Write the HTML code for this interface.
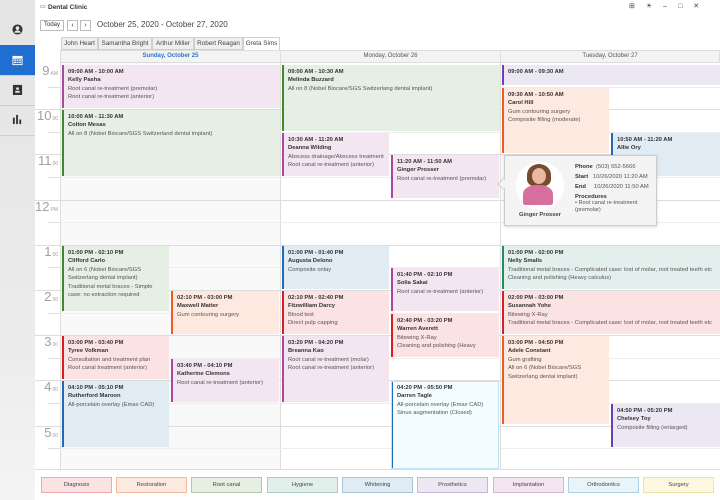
<!DOCTYPE html>
<html><head><meta charset="utf-8"><style>
*{margin:0;padding:0;box-sizing:border-box}
body{width:720px;height:500px;overflow:hidden;background:#fff;font-family:"Liberation Sans",sans-serif;position:relative;color:#333}
.a{position:absolute}
.side{left:0;top:0;width:35px;height:500px;background:linear-gradient(#e4e4e4,#ececec 70%,#f4f4f4)}
.sep{position:absolute;left:0;width:35px;height:1px;background:#cfcfcf}
.ico{position:absolute;left:12px;width:11px;height:11px}
.tab{position:absolute;top:37px;height:13px;border:1px solid #cfcfcf;background:#efefef;font-size:6.3px;text-align:center;line-height:11px;color:#444;white-space:nowrap}
.dh{position:absolute;top:50px;height:13px;background:#f3f3f3;border:1px solid #ddd;font-size:6px;text-align:center;line-height:11px;color:#555}
.hl{position:absolute;left:60px;width:660px;height:1px}
.hn{position:absolute;left:34px;width:24px;text-align:right;font-size:13px;color:#a0a0a0}
.hn span{font-size:5px;margin-left:1px}
.ap{position:absolute;border-left:2px solid;font-size:5.8px;padding:3px 4px;line-height:8.4px;overflow:hidden;color:#555}
.ap b{display:block;color:#333}
.pk{background:#f3e6f0;border-color:#a8489e}
.gr{background:#e6efe3;border-color:#3c8a2a}
.or{background:#fde9e0;border-color:#f15a22}
.rd{background:#fbe3e3;border-color:#d81e1e}
.bl{background:#e1ebf3;border-color:#1d6bb5}
.lv{background:#ece8f3;border-color:#6a3fb0}
.tl{background:#e3efec;border-color:#2a8a5f}
.cy{background:#f3fcfe;border-color:#1d6bb5;outline:1px solid #bfe3ee;outline-offset:-1px}
.lg{position:absolute;top:477px;height:16px;width:71px;border:1px solid;font-size:5.8px;text-align:center;line-height:14px;color:#444}
</style></head><body>
<div class="a side">
<div class="sep" style="top:45px"></div><div class="sep" style="top:75px"></div><div class="sep" style="top:105px"></div><div class="sep" style="top:135px"></div>
<div class="a" style="left:0;top:45px;width:35px;height:30px;background:#1e6fd0"></div>
<svg class="ico" style="top:24px" viewBox="0 0 12 12"><circle cx="6" cy="6" r="5.5" fill="#333"/><circle cx="6" cy="4.5" r="2" fill="#e6e6e6"/><path d="M2.5 9.5a3.5 2.5 0 0 1 7 0z" fill="#e6e6e6"/></svg>
<svg class="ico" style="top:55px" viewBox="0 0 12 12"><rect x="0.5" y="1" width="11" height="10" fill="#fff"/><rect x="1.5" y="4" width="9" height="6" fill="#1e6fd0"/><g fill="#fff"><rect x="2.3" y="4.8" width="2" height="1.5"/><rect x="5" y="4.8" width="2" height="1.5"/><rect x="7.7" y="4.8" width="2" height="1.5"/><rect x="2.3" y="7.3" width="2" height="1.5"/><rect x="5" y="7.3" width="2" height="1.5"/><rect x="7.7" y="7.3" width="2" height="1.5"/></g></svg>
<svg class="ico" style="top:84px" viewBox="0 0 12 12"><rect x="1" y="1" width="10" height="11" fill="#333"/><circle cx="6" cy="5" r="1.5" fill="#e6e6e6"/><rect x="3.5" y="7.5" width="5" height="2" fill="#e6e6e6"/></svg>
<svg class="ico" style="top:114px" viewBox="0 0 12 12"><rect x="1" y="4" width="2" height="7" fill="#333"/><rect x="4.5" y="1" width="2" height="10" fill="#333"/><rect x="8" y="6" width="2" height="5" fill="#333"/></svg>
</div>
<div class="a" style="left:40px;top:3px;font-size:6px">▭</div>
<div class="a" style="left:48px;top:4px;font-size:6.5px;font-weight:bold;color:#333">Dental Clinic</div>
<div class="a" style="left:629px;top:2px;font-size:7px;color:#444;letter-spacing:11px">⊞☀–□✕</div>
<div class="a" style="left:40px;top:20px;width:24px;height:11px;border:1px solid #bbb;font-size:6px;text-align:center;line-height:9px">Today</div>
<div class="a" style="left:67px;top:20px;width:11px;height:11px;border:1px solid #bbb;font-size:7px;text-align:center;line-height:9px">‹</div>
<div class="a" style="left:80px;top:20px;width:11px;height:11px;border:1px solid #bbb;font-size:7px;text-align:center;line-height:9px">›</div>
<div class="a" style="left:97px;top:20px;font-size:8px;color:#444">October 25, 2020 - October 27, 2020</div>
<div class="tab" style="left:61px;width:37px">John Heart</div>
<div class="tab" style="left:98px;width:54px">Samantha Bright</div>
<div class="tab" style="left:152px;width:42px">Arthur Miller</div>
<div class="tab" style="left:194px;width:49px">Robert Reagan</div>
<div class="tab" style="left:243px;width:37px;background:#fff;height:14px">Greta Sims</div>
<div class="dh" style="left:60px;width:221px;color:#2f72c9;font-weight:bold">Sunday, October 25</div>
<div class="dh" style="left:280px;width:221px">Monday, October 26</div>
<div class="dh" style="left:500px;width:220px">Tuesday, October 27</div>
<div class="a" style="left:60px;top:63px;width:220px;height:406px;background:#f9f9f9"></div>
<div class="a" style="left:35px;top:469px;width:685px;height:1px;background:#ddd"></div>
<div class="a" style="left:60px;top:63px;width:1px;height:406px;background:#ddd"></div>
<div class="a" style="left:280px;top:63px;width:1px;height:406px;background:#ddd"></div>
<div class="a" style="left:500px;top:63px;width:1px;height:406px;background:#ddd"></div>
<div id="g"></div>
<div class="hn" style="top:63px">9<span>AM</span></div>
<div class="hn" style="top:108px">10<span>00</span></div>
<div class="hn" style="top:153px">11<span>00</span></div>
<div class="hn" style="top:199px">12<span>PM</span></div>
<div class="hn" style="top:244px">1<span>00</span></div>
<div class="hn" style="top:289px">2<span>00</span></div>
<div class="hn" style="top:334px">3<span>00</span></div>
<div class="hn" style="top:379px">4<span>00</span></div>
<div class="hn" style="top:425px">5<span>00</span></div>
<script>
var g='';for(var i=1;i<18;i++){var y=64+i*22.6;var h=i%2==0;g+='<div class="hl" style="top:'+y+'px;background:'+(h?'#ddd':'#eee')+'"></div>';g+='<div class="a" style="left:'+(h?35:48)+'px;top:'+y+'px;width:'+(h?25:12)+'px;height:1px;background:#ddd"></div>';}
document.getElementById('g').innerHTML=g;
</script>
<!-- Sunday -->
<div class="ap pk" style="left:62px;width:218px;top:65px;height:43px"><b>09:00 AM - 10:00 AM</b><b>Kelly Pasha</b>Root canal re-treatment (premolar)<br>Root canal re-treatment (anterior)</div>
<div class="ap gr" style="left:62px;width:218px;top:110px;height:66px"><b>10:00 AM - 11:30 AM</b><b>Colton Mesas</b>All on 8 (Nobel Biocare/SGS Switzerland dental implant)</div>
<div class="ap gr" style="left:62px;width:107px;top:246px;height:65px"><b>01:00 PM - 02:10 PM</b><b>Clifford Carlo</b>All on 6 (Nobel Biocare/SGS Switzerlang dental implant)<br>Traditional metal braces - Simple case: no extraction required</div>
<div class="ap or" style="left:171px;width:108px;top:291px;height:43px"><b>02:10 PM - 03:00 PM</b><b>Maxwell Matter</b>Gum contouring surgery</div>
<div class="ap rd" style="left:62px;width:107px;top:336px;height:43px"><b>03:00 PM - 03:40 PM</b><b>Tyree Volkman</b>Consultation and treatment plan<br>Root canal treatment (anterior)</div>
<div class="ap pk" style="left:171px;width:108px;top:359px;height:43px"><b>03:40 PM - 04:10 PM</b><b>Katherine Clemons</b>Root canal re-treatment (anterior)</div>
<div class="ap bl" style="left:62px;width:107px;top:381px;height:66px"><b>04:10 PM - 05:10 PM</b><b>Rutherford Maroon</b>All-porcelain overlay (Emax CAD)</div>
<!-- Monday -->
<div class="ap gr" style="left:282px;width:218px;top:65px;height:66px"><b>09:00 AM - 10:30 AM</b><b>Melinda Buzzard</b>All on 8 (Nobel Biocare/SGS Switzerlang dental implant)</div>
<div class="ap pk" style="left:282px;width:107px;top:133px;height:43px"><b>10:30 AM - 11:20 AM</b><b>Deanna Wilding</b>Abscess drainage/Abscess treatment<br>Root canal re-treatment (anterior)</div>
<div class="ap pk" style="left:391px;width:108px;top:155px;height:43px"><b>11:20 AM - 11:50 AM</b><b>Ginger Prosser</b>Root canal re-treatment (premolar)</div>
<div class="ap bl" style="left:282px;width:107px;top:246px;height:43px"><b>01:00 PM - 01:40 PM</b><b>Augusta Delono</b>Composite onlay</div>
<div class="ap pk" style="left:391px;width:108px;top:268px;height:43px"><b>01:40 PM - 02:10 PM</b><b>Solia Sakai</b>Root canal re-treatment (anterior)</div>
<div class="ap rd" style="left:282px;width:107px;top:291px;height:43px"><b>02:10 PM - 02:40 PM</b><b>Fitzwilliam Darcy</b>Blood test<br>Direct pulp capping</div>
<div class="ap rd" style="left:391px;width:108px;top:314px;height:43px"><b>02:40 PM - 03:20 PM</b><b>Warren Averett</b>Bitewing X-Ray<br>Cleaning and polishing (Heavy</div>
<div class="ap pk" style="left:282px;width:107px;top:336px;height:66px"><b>03:20 PM - 04:20 PM</b><b>Breanna Kao</b>Root canal re-treatment (molar)<br>Root canal re-treatment (anterior)</div>
<div class="ap cy" style="left:391px;width:108px;top:381px;height:88px"><b>04:20 PM - 05:50 PM</b><b>Darren Tagle</b>All-porcelain overlay (Emax CAD)<br>Sinus augmentation (Closed)</div>
<!-- Tuesday -->
<div class="ap lv" style="left:502px;width:218px;top:65px;height:20px"><b>09:00 AM - 09:30 AM</b></div>
<div class="ap or" style="left:502px;width:107px;top:88px;height:65px"><b>09:30 AM - 10:50 AM</b><b>Carol Hill</b>Gum contouring surgery<br>Composite filling (moderate)</div>
<div class="ap bl" style="left:611px;width:109px;top:133px;height:43px"><b>10:50 AM - 11:20 AM</b><b>Allie Ory</b></div>
<div class="ap tl" style="left:502px;width:218px;top:246px;height:43px;white-space:nowrap"><b>01:00 PM - 02:00 PM</b><b>Nelly Smalls</b>Traditional metal braces - Complicated case: lost of molar, root treated teeth etc<br>Cleaning and polishing (Heavy calculus)</div>
<div class="ap rd" style="left:502px;width:218px;top:291px;height:43px;white-space:nowrap"><b>02:00 PM - 03:00 PM</b><b>Susannah Yohe</b>Bitewing X-Ray<br>Traditional metal braces - Complicated case: lost of molar, root treated teeth etc</div>
<div class="ap or" style="left:502px;width:107px;top:336px;height:88px"><b>03:00 PM - 04:50 PM</b><b>Adele Constant</b>Gum grafting<br>All on 6 (Nobel Biocare/SGS Switzerlang dental implant)</div>
<div class="ap lv" style="left:611px;width:109px;top:404px;height:43px"><b>04:50 PM - 05:20 PM</b><b>Chelsey Toy</b>Composite filling (enlarged)</div>
<!-- tooltip -->
<div class="a" style="left:504px;top:155px;width:153px;height:71px;background:#f4f4f4;border:1px solid #ccc;box-shadow:0 1px 3px rgba(0,0,0,.15)"></div>
<div class="a" style="left:499px;top:180px;width:8px;height:8px;background:#f4f4f4;border-left:1px solid #ccc;border-bottom:1px solid #ccc;transform:rotate(45deg)"></div>
<div class="a" style="left:516px;top:162px;width:48px;height:48px;border-radius:50%;background:#fff"></div>
<div class="a" style="left:527px;top:164px;width:24px;height:22px;border-radius:50% 50% 30% 30%;background:#7a4a30"></div>
<div class="a" style="left:532px;top:168px;width:14px;height:16px;border-radius:50%;background:#e8b8a0"></div>
<div class="a" style="left:523px;top:185px;width:30px;height:20px;border-radius:45% 45% 10% 10%;background:#d66e9e"></div>
<div class="a" style="left:510px;top:212px;width:60px;font-size:5.8px;font-weight:bold;text-align:center;color:#444;white-space:nowrap">Ginger Prosser</div>
<div class="a" style="left:575px;top:162px;font-size:5.8px;line-height:10px;color:#555;white-space:nowrap"><b style="color:#333">Phone</b>&nbsp; (503) 652-5666<br><b style="color:#333">Start</b>&nbsp;&nbsp; 10/26/2020 11:20 AM<br><b style="color:#333">End</b>&nbsp;&nbsp;&nbsp;&nbsp; 10/26/2020 11:50 AM<br><b style="color:#333">Procedures</b></div>
<div class="a" style="left:575px;top:200px;font-size:5.6px;line-height:7px;color:#555;white-space:nowrap">• Root canal re-treatment<br>(premolar)</div>
<!-- legend -->
<div class="lg" style="left:41px;background:#fbe3e3;border-color:#f0a8a8">Diagnosis</div>
<div class="lg" style="left:116px;background:#fde9e0;border-color:#f5b898">Restoration</div>
<div class="lg" style="left:191px;background:#e6efe3;border-color:#afc9a4">Root canal</div>
<div class="lg" style="left:267px;background:#e3efec;border-color:#a8cec2">Hygiene</div>
<div class="lg" style="left:342px;background:#e1ebf3;border-color:#a6c4de">Whitening</div>
<div class="lg" style="left:417px;background:#ece8f3;border-color:#c4b6e0">Prosthetics</div>
<div class="lg" style="left:493px;background:#f3e6f0;border-color:#d9b4d2">Implantation</div>
<div class="lg" style="left:568px;background:#e8f4f8;border-color:#aad4e6">Orthodontics</div>
<div class="lg" style="left:643px;background:#fff8e0;border-color:#f5e0a2">Surgery</div>
</body></html>
